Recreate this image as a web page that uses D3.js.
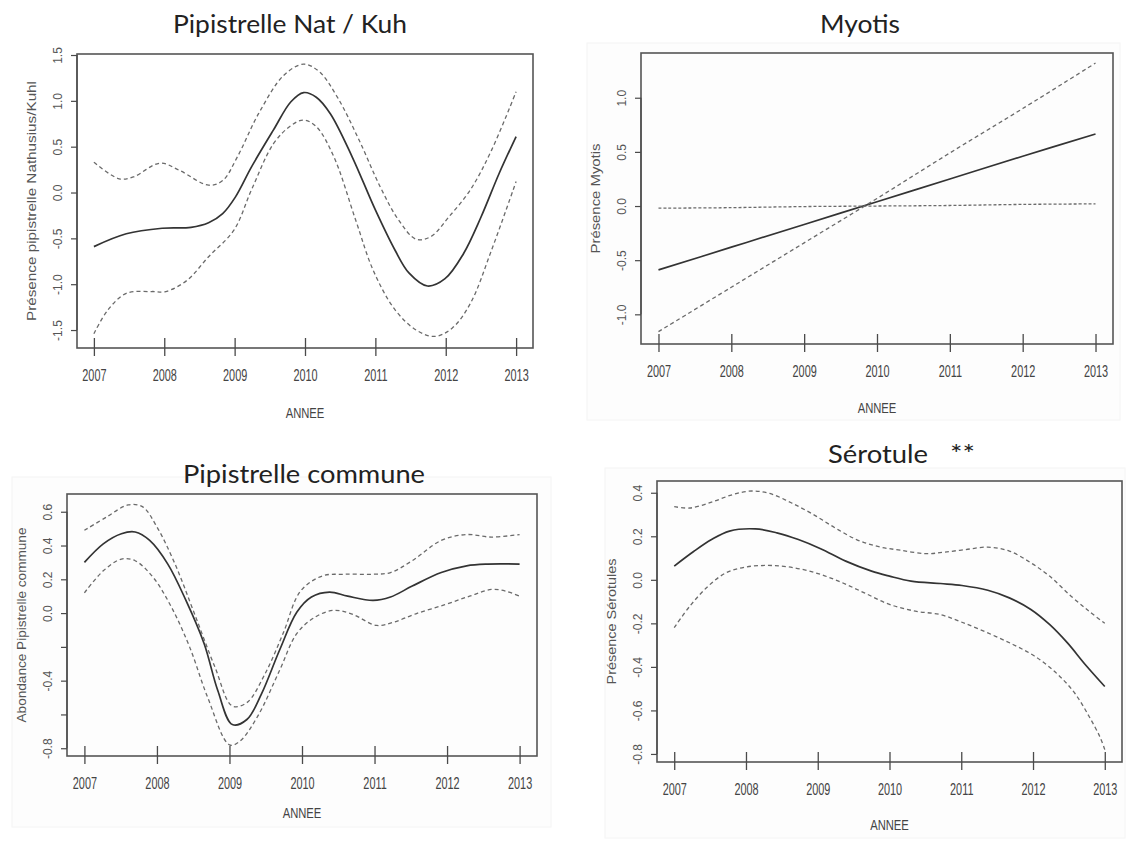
<!DOCTYPE html>
<html><head><meta charset="utf-8">
<script src="https://cdn.jsdelivr.net/npm/d3@7"></script>
<style>body{margin:0;background:#fff}svg{display:block}</style>
</head><body><svg id="c" width="1126" height="845"></svg>
<script>
// ---------- DATA ----------
const years = [2007, 2008, 2009, 2010, 2011, 2012, 2013];

// Panel 1 : Pipistrelle Nat / Kuh
const natFitX = [2007, 2007.46, 2007.97, 2008.38, 2008.63, 2008.83, 2009.01, 2009.24, 2009.55, 2009.8, 2009.98, 2010.16, 2010.36, 2010.67, 2011.0, 2011.28, 2011.48, 2011.74, 2011.99, 2012.25, 2012.5, 2012.76, 2013];
const natFitY = [-0.59, -0.45, -0.39, -0.38, -0.33, -0.23, -0.05, 0.28, 0.68, 0.99, 1.09, 1.04, 0.86, 0.39, -0.19, -0.63, -0.88, -1.02, -0.94, -0.67, -0.27, 0.21, 0.61];
const natUpX = [2007, 2007.36, 2007.56, 2007.94, 2008.22, 2008.63, 2008.83, 2009.04, 2009.34, 2009.7, 2009.98, 2010.2, 2010.46, 2010.77, 2011.07, 2011.33, 2011.58, 2011.79, 2012.04, 2012.35, 2012.65, 2013];
const natUpY = [0.33, 0.15, 0.17, 0.32, 0.24, 0.08, 0.13, 0.39, 0.86, 1.28, 1.40, 1.32, 1.04, 0.57, 0.06, -0.30, -0.51, -0.48, -0.27, 0.03, 0.46, 1.10];
const natLowX = [2007, 2007.2, 2007.46, 2007.82, 2008.02, 2008.32, 2008.63, 2008.99, 2009.24, 2009.55, 2009.8, 2009.98, 2010.16, 2010.41, 2010.72, 2010.97, 2011.28, 2011.58, 2011.84, 2012.09, 2012.35, 2012.65, 2013];
const natLowY = [-1.54, -1.28, -1.10, -1.08, -1.08, -0.96, -0.70, -0.41, 0.03, 0.53, 0.73, 0.79, 0.72, 0.39, -0.30, -0.85, -1.28, -1.50, -1.57, -1.48, -1.21, -0.63, 0.12];
const natTicks = [-1.5, -1.0, -0.5, 0.0, 0.5, 1.0, 1.5];

// Panel 2 : Myotis
const myoX = years;
const myoFitY = [-0.59, -0.38, -0.17, 0.04, 0.25, 0.46, 0.665];
const myoUpY = [-1.16, -0.75, -0.34, 0.07, 0.49, 0.90, 1.32];
const myoLowY = [-0.02, -0.015, -0.005, 0.0, 0.005, 0.015, 0.02];
const myoTicks = [-1.0, -0.5, 0.0, 0.5, 1.0];

// Panel 3 : Pipistrelle commune
const comFitX = [2007, 2007.26, 2007.51, 2007.7, 2007.9, 2008.15, 2008.4, 2008.65, 2008.84, 2009.04, 2009.24, 2009.44, 2009.69, 2009.93, 2010.13, 2010.38, 2010.63, 2010.98, 2011.22, 2011.52, 2011.92, 2012.27, 2012.56, 2013];
const comFitY = [0.30, 0.41, 0.47, 0.48, 0.43, 0.29, 0.075, -0.18, -0.46, -0.66, -0.63, -0.48, -0.22, 0.006, 0.095, 0.124, 0.10, 0.075, 0.095, 0.16, 0.24, 0.28, 0.29, 0.29];
const comUpX = [2007, 2007.31, 2007.6, 2007.8, 2008.0, 2008.25, 2008.5, 2008.8, 2009.04, 2009.24, 2009.49, 2009.74, 2009.98, 2010.28, 2010.58, 2010.98, 2011.22, 2011.52, 2011.92, 2012.27, 2012.61, 2013];
const comUpY = [0.49, 0.57, 0.64, 0.63, 0.51, 0.29, 0.016, -0.32, -0.55, -0.53, -0.36, -0.12, 0.13, 0.22, 0.23, 0.23, 0.24, 0.31, 0.43, 0.465, 0.45, 0.465];
const comLowX = [2007, 2007.26, 2007.51, 2007.7, 2007.95, 2008.2, 2008.45, 2008.7, 2009.0, 2009.14, 2009.39, 2009.69, 2009.93, 2010.18, 2010.43, 2010.68, 2011.03, 2011.27, 2011.57, 2011.97, 2012.31, 2012.61, 2012.81, 2013];
const comLowY = [0.12, 0.25, 0.32, 0.31, 0.21, 0.035, -0.20, -0.50, -0.78, -0.76, -0.61, -0.34, -0.12, -0.024, 0.016, -0.004, -0.073, -0.053, -0.004, 0.05, 0.10, 0.14, 0.13, 0.10];
const comTicks = [-0.8, -0.6, -0.4, -0.2, 0.0, 0.2, 0.4, 0.6];
const comTickLabels = [-0.8, -0.4, 0.0, 0.2, 0.4, 0.6];

// Panel 4 : Sérotule
const serFitX = [2007, 2007.27, 2007.52, 2007.77, 2008.13, 2008.43, 2008.73, 2009.04, 2009.39, 2009.75, 2010.0, 2010.3, 2010.71, 2011.01, 2011.37, 2011.67, 2011.97, 2012.23, 2012.48, 2012.73, 2013];
const serFitY = [0.063, 0.13, 0.185, 0.224, 0.234, 0.216, 0.185, 0.143, 0.086, 0.04, 0.017, -0.006, -0.017, -0.026, -0.048, -0.083, -0.136, -0.205, -0.29, -0.39, -0.49];
const serUpX = [2007, 2007.22, 2007.52, 2007.82, 2008.08, 2008.33, 2008.63, 2008.94, 2009.24, 2009.54, 2009.85, 2010.15, 2010.51, 2010.76, 2011.06, 2011.37, 2011.67, 2011.97, 2012.23, 2012.53, 2012.78, 2013];
const serUpY = [0.336, 0.33, 0.357, 0.392, 0.408, 0.397, 0.354, 0.30, 0.239, 0.185, 0.152, 0.136, 0.12, 0.127, 0.139, 0.15, 0.132, 0.078, 0.017, -0.075, -0.144, -0.20];
const serLowX = [2007, 2007.22, 2007.47, 2007.72, 2007.98, 2008.28, 2008.58, 2008.94, 2009.29, 2009.65, 2010.0, 2010.36, 2010.71, 2011.01, 2011.37, 2011.72, 2012.02, 2012.33, 2012.58, 2012.78, 2012.93, 2013];
const serLowY = [-0.22, -0.12, -0.03, 0.032, 0.058, 0.066, 0.06, 0.035, -0.006, -0.06, -0.113, -0.144, -0.16, -0.195, -0.244, -0.297, -0.35, -0.43, -0.52, -0.627, -0.72, -0.78];
const serTicks = [-0.8, -0.6, -0.4, -0.2, 0.0, 0.2, 0.4];

const titles = ["Pipistrelle Nat / Kuh", "Myotis", "Pipistrelle commune", "Sérotule", "**"];
const yTitles = ["Présence pipistrelle Nathusius/Kuhl", "Présence Myotis", "Abondance Pipistrelle commune", "Présence Sérotules"];
const xTitle = "ANNEE";

// ---------- LAYOUT ----------
const panels = [
  {box:[77,533,54,348], ydom:[-1.696,1.511], ticks:natTicks, labels:natTicks, ytitle:yTitles[0], ytLen:240, xtOff:65,
   lines:[[natFitX,natFitY,"solid"],[natUpX,natUpY,"dash"],[natLowX,natLowY,"dash"]]},
  {box:[641,1113,53,344], ydom:[-1.274,1.413], ticks:myoTicks, labels:myoTicks, ytitle:yTitles[1], ytLen:110, xtOff:64,
   lines:[[myoX,myoFitY,"solid"],[myoX,myoUpY,"dash"],[myoX,myoLowY,"dot"]]},
  {box:[67,537,494,756], ydom:[-0.846,0.705], ticks:comTicks, labels:comTickLabels, ytitle:yTitles[2], ytLen:195, xtOff:57,
   lines:[[comFitX,comFitY,"solid"],[comUpX,comUpY,"dash"],[comLowX,comLowY,"dash"]]},
  {box:[657,1122,481,762], ydom:[-0.837,0.454], ticks:serTicks, labels:serTicks, ytitle:yTitles[3], ytLen:126, xtOff:63,
   lines:[[serFitX,serFitY,"solid"],[serUpX,serUpY,"dash"],[serLowX,serLowY,"dash"]]}
];
const titleLayout = [
  {i:0, x:173, y:33, len:234},
  {i:1, x:820, y:33, len:80},
  {i:2, x:183, y:483, len:242},
  {i:3, x:828, y:463, len:100},
  {i:4, x:950, y:463, len:25}
];

const svg = d3.select("#c");
const fmt = v => v.toFixed(1);
const AX = "#4a4a4a";

// faint panel backgrounds (pasted images)
[[587,43,1120,420],[12,477,551,827],[605,468,1125,838]].forEach(r=>{
  svg.append("rect").attr("x",r[0]).attr("y",r[1]).attr("width",r[2]-r[0]).attr("height",r[3]-r[1])
    .attr("fill","#fdfdfd").attr("stroke","#f4f4f4");
});

panels.forEach(p=>{
  const [L,R,T,B] = p.box;
  const x = d3.scaleLinear().domain([2006.76,2013.24]).range([L,R]);
  const y = d3.scaleLinear().domain(p.ydom).range([B,T]);
  const g = svg.append("g");

  // curves
  p.lines.forEach(([xs,ys,style])=>{
    const pts = xs.map((v,i)=>[v,ys[i]]);
    const line = d3.line().x(d=>x(d[0])).y(d=>y(d[1])).curve(d3.curveCatmullRom.alpha(0.5));
    g.append("path").attr("d",line(pts)).attr("fill","none")
      .attr("stroke", style==="solid" ? "#333" : "#6a6a6a")
      .attr("stroke-width", style==="solid" ? 1.7 : 1.3)
      .attr("stroke-dasharray", style==="solid" ? null : (style==="dot" ? "3,2" : "4,3"));
  });

  // box
  g.append("rect").attr("x",L).attr("y",T).attr("width",R-L).attr("height",B-T)
    .attr("fill","none").attr("stroke","#555").attr("stroke-width",1.6);

  // x axis
  const xa = g.append("g").attr("transform",`translate(0,${B})`)
    .call(d3.axisBottom(x).tickValues(years).tickSize(8).tickSizeOuter(0).tickFormat(d3.format("d")));
  xa.select(".domain").remove();
  xa.selectAll(".tick line").attr("y1",-10).attr("y2",8).attr("stroke",AX).attr("stroke-width",1.3);
  xa.selectAll(".tick text").attr("y",0).attr("dy",0)
    .attr("transform","translate(0,33) scale(0.68,1)")
    .attr("font-family","'Liberation Sans',Arial,sans-serif")
    .attr("font-size",16).attr("fill","#444");

  // y axis
  const ya = g.append("g").attr("transform",`translate(${L},0)`)
    .call(d3.axisLeft(y).tickValues(p.ticks).tickSize(6).tickSizeOuter(0)
      .tickFormat(v => p.labels.some(l=>Math.abs(l-v)<1e-9) ? fmt(v) : ""));
  ya.select(".domain").attr("stroke",AX).attr("stroke-width",1.2)
    .attr("d",`M0,${y(p.ticks[0])}V${y(p.ticks[p.ticks.length-1])}`);
  ya.selectAll(".tick line").attr("stroke",AX).attr("stroke-width",1.2);
  ya.selectAll(".tick text").attr("x",0).attr("dy",0)
    .attr("transform","translate(-15,0) rotate(-90)").attr("text-anchor","middle")
    .attr("font-family","'Liberation Sans',Arial,sans-serif").attr("font-size",12).attr("fill","#555");

  // axis titles
  g.append("text").attr("transform",`translate(${(L+R)/2},${B+p.xtOff+5}) scale(0.75,1)`).attr("text-anchor","middle")
    .attr("font-family","'Liberation Sans',Arial,sans-serif")
    .attr("font-size",15).attr("fill","#444").text(xTitle);
  g.append("text").attr("transform",`translate(${L-41},${(T+B)/2}) rotate(-90)`).attr("text-anchor","middle")
    .attr("font-family","'Liberation Sans',Arial,sans-serif").attr("font-size",12.5).attr("fill","#555")
    .attr("textLength",p.ytLen).attr("lengthAdjust","spacingAndGlyphs").text(p.ytitle);
});

// titles
titleLayout.forEach(t=>{
  svg.append("text").attr("x",t.x).attr("y",t.y)
    .attr("font-family","Lato,'Open Sans',sans-serif").attr("font-size",25).attr("fill","#222")
    .attr("textLength",t.len).attr("lengthAdjust","spacingAndGlyphs").text(titles[t.i]);
});
</script></body></html>
